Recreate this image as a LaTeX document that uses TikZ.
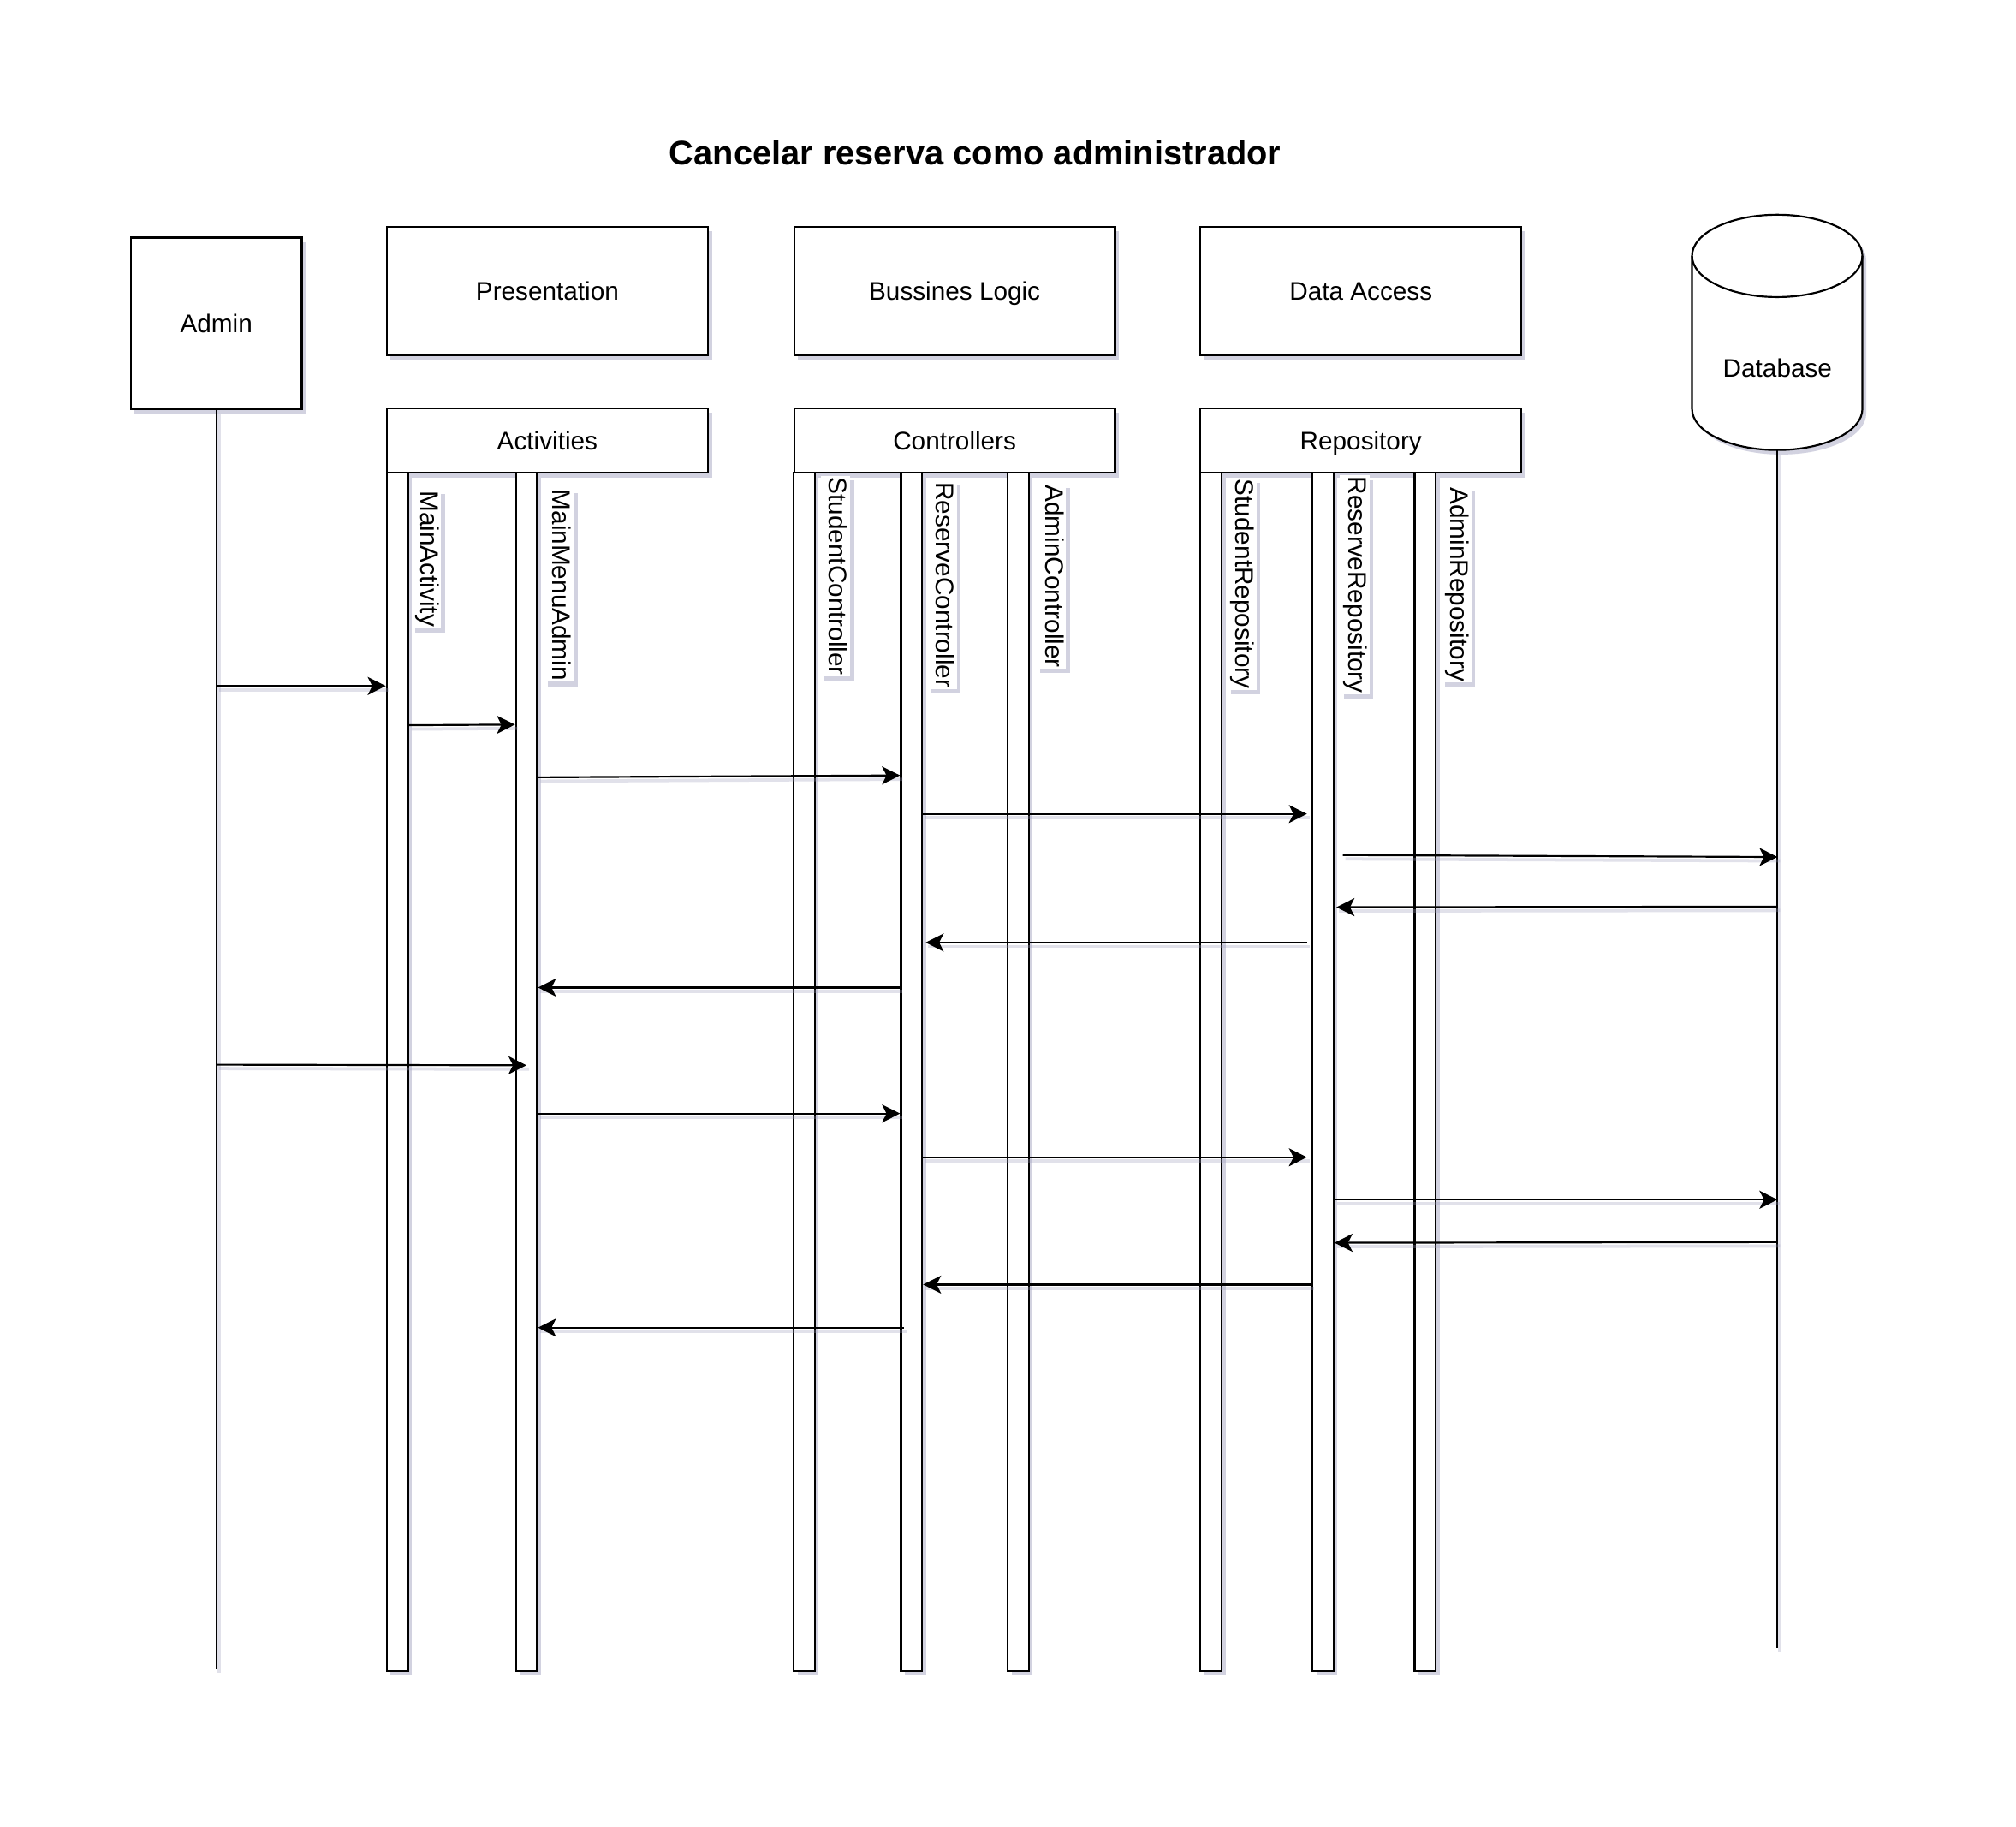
\documentclass[tikz,border=0pt]{standalone}
\usepackage{fontspec}
\setmainfont{Liberation Sans}
\usetikzlibrary{arrows.meta,shadows,calc}
\definecolor{shadowc}{HTML}{9C9CBC}
\newcommand{\vtxt}[1]{\rotatebox{-90}{\strut #1}}
\begin{document}
\begin{tikzpicture}[x=1pt,y=-1pt,
  font=\fontsize{19.8}{23}\selectfont,
  lw/.style={line width=1.45pt},
  shad/.style={drop shadow={shadow xshift=3pt, shadow yshift=-3.5pt, fill=shadowc, opacity=0.45}},
  box/.style={draw, lw, fill=white, shad, rectangle, inner sep=0pt, anchor=north west, text height=14.5pt, text depth=0.5pt},
  bar/.style={box, minimum width=16.5pt, minimum height=932pt},
  vlabel/.style={fill=white, shad, inner xsep=0pt, inner ysep=1pt, anchor=north west},
  lshad/.style={preaction={draw=shadowc, opacity=0.3, line width=2.5pt, -, transform canvas={xshift=2pt, yshift=-3pt}}},
  msg/.style={lw, lshad, -{Stealth[length=14pt, width=14pt, inset=3.5pt]}},
  life/.style={lw, lshad}
]
\fill[white] (0,0) rectangle (1568,1420.2);
\useasboundingbox (0,0) rectangle (1568,1420.2);

% title
\node[font=\bfseries\fontsize{26.5}{30}\selectfont] (title) at (758.5,119) {Cancelar reserva como administrador};

% actor and layer boxes
\node[box, minimum width=133pt, minimum height=133.5pt] (admin) at (101,184) {Admin};
\node[box, minimum width=250pt, minimum height=100pt] (pres) at (300,175.5) {Presentation};
\node[box, minimum width=249.5pt, minimum height=100pt] (bl) at (617,175.5) {Bussines Logic};
\node[box, minimum width=249.5pt, minimum height=100pt] (da) at (933,175.5) {Data Access};
\node[box, minimum width=250pt, minimum height=50pt] (act) at (300,317) {Activities};
\node[box, minimum width=249.5pt, minimum height=50pt] (ctl) at (617,317) {Controllers};
\node[box, minimum width=249.5pt, minimum height=50pt] (rep) at (933,317) {Repository};

% database cylinder
\node[anchor=north west, minimum width=132.5pt, minimum height=183pt, inner sep=0pt] (db) at (1316,167) {};
\draw[lw, fill=white, shad] (1316,199) -- (1316,318)
  arc[start angle=180, end angle=360, x radius=66.25pt, y radius=32pt] -- (1448.5,199)
  arc[start angle=0, end angle=180, x radius=66.25pt, y radius=32pt] -- cycle;
\draw[lw] (1316,199) arc[start angle=180, end angle=360, x radius=66.25pt, y radius=32pt];
\node (dblabel) at (db.center |- 0,286) {Database};

% lifeline bars
\node[bar] (mainact) at (300,367) {};
\node[bar] (menu) at (400.5,367) {};
\node[bar] (stuc) at (616.5,367) {};
\node[bar] (resc) at (700,367) {};
\node[bar] (admc) at (783,367) {};
\node[bar] (stur) at (933,367) {};
\node[bar] (resr) at (1020,367) {};
\node[bar] (admr) at (1099.5,367) {};

% vertical labels
\node[vlabel] (lmainact) at (320,380.6) {\vtxt{MainActivity}};
\node[vlabel] (lmenu) at (423,379.5) {\vtxt{MainMenuAdmin}};
\node[vlabel] (lstuc) at (638,370) {\vtxt{StudentController}};
\node[vlabel] (lresc) at (721,374) {\vtxt{ReserveController}};
\node[vlabel] (ladmc) at (806,376) {\vtxt{AdminController}};
\node[vlabel] (lstur) at (954,371.5) {\vtxt{StudentRepository}};
\node[vlabel] (lresr) at (1042,369.5) {\vtxt{ReserveRepository}};
\node[vlabel] (ladmr) at (1121,378) {\vtxt{AdminRepository}};

% lifelines
\draw[life] (admin.south) -- (admin.south |- 0,1298);
\draw[life] (db.south) -- (db.south |- 0,1282);

% messages
\draw[msg] (admin.south |- 0,533.5) -- (mainact.west |- 0,533.5);
\draw[msg] (mainact.east |- 0,564) -- (menu.west |- 0,563.5);
\draw[msg] (menu.east |- 0,604.5) -- (resc.west |- 0,603);
\draw[msg] (resc.east |- 0,633) -- ($(resr.west |- 0,633)+(-3.5,0)$);
\draw[msg] ($(resr.east |- 0,665)+(6.5,0)$) -- (db.south |- 0,666.5);
\draw[msg] (db.south |- 0,705) -- ($(resr.east |- 0,705.5)+(1.5,0)$);
\draw[msg] ($(resr.west |- 0,733)+(-3.5,0)$) -- ($(resc.east |- 0,733)+(2,0)$);
\draw[msg] (resc.west |- 0,768) -- (menu.east |- 0,768);
\draw[msg] (admin.south |- 0,828) -- (menu.center |- 0,828.5);
\draw[msg] (menu.east |- 0,866) -- (resc.west |- 0,866);
\draw[msg] (resc.east |- 0,900) -- ($(resr.west |- 0,900)+(-3.5,0)$);
\draw[msg] (resr.east |- 0,933) -- (db.south |- 0,933);
\draw[msg] (db.south |- 0,966) -- (resr.east |- 0,966.5);
\draw[msg] (resr.west |- 0,999) -- (resc.east |- 0,999);
\draw[msg] ($(resc.west |- 0,1032.5)+(3,0)$) -- (menu.east |- 0,1032.5);
\end{tikzpicture}
\end{document}
